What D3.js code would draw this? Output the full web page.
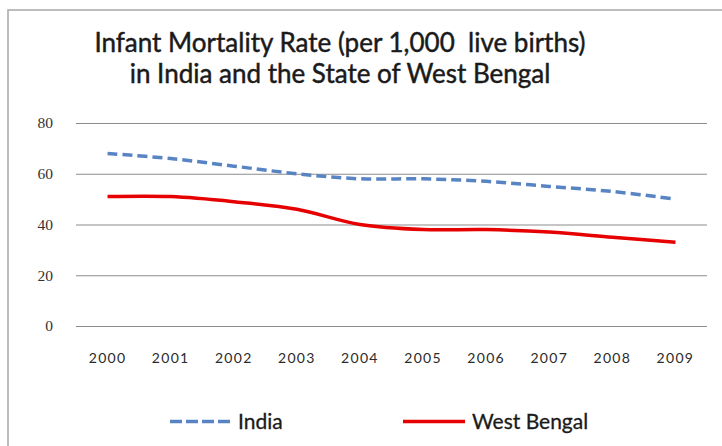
<!DOCTYPE html>
<html>
<head>
<meta charset="utf-8">
<script src="https://cdn.jsdelivr.net/npm/d3@7"></script>
<style>
  html, body { margin: 0; padding: 0; background: #fff; }
  svg { display: block; }
</style>
</head>
<body>
<svg id="chart" width="722" height="446"></svg>
<script>
const years = ["2000","2001","2002","2003","2004","2005","2006","2007","2008","2009"];
const india = [68, 66, 63, 60, 58, 58, 57, 55, 53, 50];
const westBengal = [51, 51, 49, 46, 40, 38, 38, 37, 35, 33];
const yTicks = [0, 20, 40, 60, 80];
const titleLines = ["Infant Mortality Rate (per 1,000  live births)", "in India and the State of West Bengal"];

const svg = d3.select("#chart");
const font = "Lato, 'Open Sans', sans-serif";

// outer chart frame
svg.append("rect")
  .attr("x", 8).attr("y", 10)
  .attr("width", 740).attr("height", 460)
  .attr("fill", "#fff")
  .attr("stroke", "#a8a8a8").attr("stroke-width", 1.5);

const plot = { left: 76, right: 707, top: 123, bottom: 326 };

const x = d3.scaleBand().domain(years).range([plot.left, plot.right]);
const y = d3.scaleLinear().domain([0, 80]).range([plot.bottom, plot.top]);

// title
svg.append("g").selectAll("text")
  .data(titleLines)
  .join("text")
  .attr("x", 340)
  .attr("y", (d, i) => 52 + i * 31)
  .attr("text-anchor", "middle")
  .attr("font-family", font)
  .attr("font-size", 26)
  .attr("fill", "#1a1a1a")
  .attr("stroke", "#1a1a1a")
  .attr("stroke-width", 0.45)
  .style("white-space", "pre")
  .text(d => d);

// gridlines + y labels
const yAxis = d3.axisLeft(y)
  .tickValues(yTicks)
  .tickSize(-(plot.right - plot.left))
  .tickPadding(23);
const gy = svg.append("g")
  .attr("transform", `translate(${plot.left},0)`)
  .call(yAxis);
gy.select(".domain").remove();
gy.selectAll(".tick line").attr("stroke", "#8c8c8c").attr("stroke-width", 1.2);
gy.selectAll(".tick text")
  .attr("font-family", "'Liberation Serif', serif")
  .attr("font-size", 15.5)
  .attr("fill", "#333");

// x labels
const xAxis = d3.axisBottom(x).tickSize(0).tickPadding(27);
const gx = svg.append("g")
  .attr("transform", `translate(0,${plot.bottom})`)
  .call(xAxis);
gx.select(".domain").remove();
gx.selectAll(".tick text")
  .attr("font-family", font)
  .attr("font-size", 14)
  .attr("letter-spacing", 1.3)
  .attr("fill", "#2a2a2a");

const cx = d => x(d) + x.bandwidth() / 2;
const line = d3.line()
  .x((d, i) => cx(years[i]))
  .y(d => y(d))
  .curve(d3.curveCatmullRom.alpha(0.5));

svg.append("path")
  .datum(india)
  .attr("d", line)
  .attr("fill", "none")
  .attr("stroke", "#5884c4")
  .attr("stroke-width", 3.5)
  .attr("stroke-dasharray", "10,5");

svg.append("path")
  .datum(westBengal)
  .attr("d", line)
  .attr("fill", "none")
  .attr("stroke", "#e60000")
  .attr("stroke-width", 3.5);

// legend
const legend = [
  { name: "India", color: "#5884c4", dash: "12,4", x0: 170, x1: 232, tx: 238 },
  { name: "West Bengal", color: "#e60000", dash: null, x0: 403, x1: 465, tx: 472 }
];
const lg = svg.append("g").selectAll("g").data(legend).join("g");
lg.append("line")
  .attr("x1", d => d.x0).attr("x2", d => d.x1)
  .attr("y1", 421.5).attr("y2", 421.5)
  .attr("stroke", d => d.color)
  .attr("stroke-width", 3.5)
  .attr("stroke-dasharray", d => d.dash);
lg.append("text")
  .attr("x", d => d.tx)
  .attr("y", 429)
  .attr("font-family", font)
  .attr("font-size", 21)
  .attr("fill", "#1a1a1a")
  .attr("stroke", "#1a1a1a")
  .attr("stroke-width", 0.3)
  .text(d => d.name);
</script>
</body>
</html>
